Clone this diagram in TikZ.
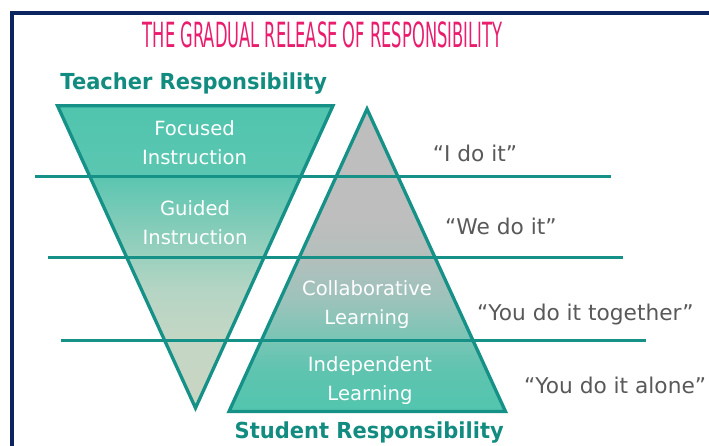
\documentclass[tikz,border=0pt]{standalone}
\usepackage{fontspec}
\setmainfont{DejaVu Sans}

\definecolor{frame}{RGB}{12,36,96}
\definecolor{titlepink}{RGB}{233,28,110}
\definecolor{line}{RGB}{22,145,136}
\definecolor{tealtext}{RGB}{18,140,128}
\definecolor{talk}{RGB}{89,89,89}
\definecolor{tteal}{RGB}{80,197,174}
\definecolor{tteal2}{RGB}{92,198,177}
\definecolor{tmint}{RGB}{141,206,187}
\definecolor{tsoft}{RGB}{181,213,196}
\definecolor{tbeige2}{RGB}{197,214,196}
\definecolor{tbeige}{RGB}{201,213,195}
\definecolor{steal}{RGB}{82,197,174}
\definecolor{steal2}{RGB}{95,196,176}
\definecolor{sfade1}{RGB}{120,197,181}
\definecolor{sfade2}{RGB}{156,195,187}
\definecolor{sfade3}{RGB}{179,191,188}
\definecolor{sgray}{RGB}{190,190,190}

\pgfdeclareverticalshading{teachershade}{100bp}{color(0bp)=(tbeige); color(25bp)=(tbeige);
  color(36bp)=(tbeige2); color(44.5bp)=(tsoft); color(53bp)=(tmint); color(63bp)=(tteal2);
  color(75bp)=(tteal); color(100bp)=(tteal)}
\pgfdeclareverticalshading{studentshade}{100bp}{color(0bp)=(steal); color(25bp)=(steal);
  color(32bp)=(steal2); color(36.7bp)=(sfade1); color(43.4bp)=(sfade2); color(50.4bp)=(sfade3);
  color(56.7bp)=(sgray); color(75bp)=(sgray); color(100bp)=(sgray)}

\begin{document}
\begin{tikzpicture}[
    x = 1pt,
    y = -1pt,
    band/.style = {draw = line, line width = 2.5pt},
    tri/.style = {draw = line, line width = 3.3pt},
    inside/.style = {
      text = white,
      align = center,
      anchor = north,
      inner sep = 0pt,
      font = \fontsize{19.6}{29}\selectfont
    },
    saying/.style = {
      text = talk,
      anchor = base west,
      inner sep = 0pt,
      font = \fontsize{21.7}{26}\selectfont
    },
    side/.style = {
      text = tealtext,
      anchor = base,
      inner sep = 0pt,
      yscale = 1.05,
      font = \bfseries\fontsize{21}{25}\selectfont
    }
  ]
  \useasboundingbox[fill=white] (0,0) rectangle (709,446);

  \draw[frame, line width=4pt] (12,446) -- (12,13) -- (709,13);

  \node[anchor=base, xscale=0.47, inner sep=0pt, text=titlepink,
        font=\fontsize{34.7}{40}\selectfont] (title) at (322.5,48)
        {THE GRADUAL RELEASE OF RESPONSIBILITY};

  \coordinate (tl) at (57.5,105.7);
  \coordinate (tr) at (333,105.7);
  \coordinate (tb) at (195.5,408);
  \coordinate (sa) at (367,109);
  \coordinate (sl) at (229,411.5);
  \coordinate (sr) at (505.5,411.5);

  \shade[shading=teachershade] (tl) -- (tr) -- (tb) -- cycle;
  \shade[shading=studentshade] (sa) -- (sl) -- (sr) -- cycle;
  \draw[tri] (tl) -- (tr) -- (tb) -- cycle;
  \draw[tri] (sa) -- (sl) -- (sr) -- cycle;

  \coordinate (one w) at (35,176.7);
  \coordinate (one e) at (611,176.7);
  \coordinate (two w) at (48,257.7);
  \coordinate (two e) at (623,257.7);
  \coordinate (three w) at (61,340.7);
  \coordinate (three e) at (646,340.7);

  \draw[band] (one w) -- (one e);
  \draw[band] (two w) -- (two e);
  \draw[band] (three w) -- (three e);

  \node[side] (teacher) at (193.8,90) {Teacher Responsibility};
  \node[side] (student) at (369.2,438.3) {Student Responsibility};

  \node[inside] (focused) at (194.5,120.1) {Focused\\Instruction};
  \node[inside] (guided) at (195,200.1) {Guided\\Instruction};
  \node[inside] (collab) at (367,280.1) {Collaborative\\Learning};
  \node[inside] (indep) at (370,356.8) {Independent\\Learning};

  \node[saying] (ido) at (432.7,161.7) {“I do it”};
  \node[saying] (wedo) at (445,235) {“We do it”};
  \node[saying] (together) at (477,320) {“You do it together”};
  \node[saying] (alone) at (524,393.3) {“You do it alone”};

\end{tikzpicture}
\end{document}
